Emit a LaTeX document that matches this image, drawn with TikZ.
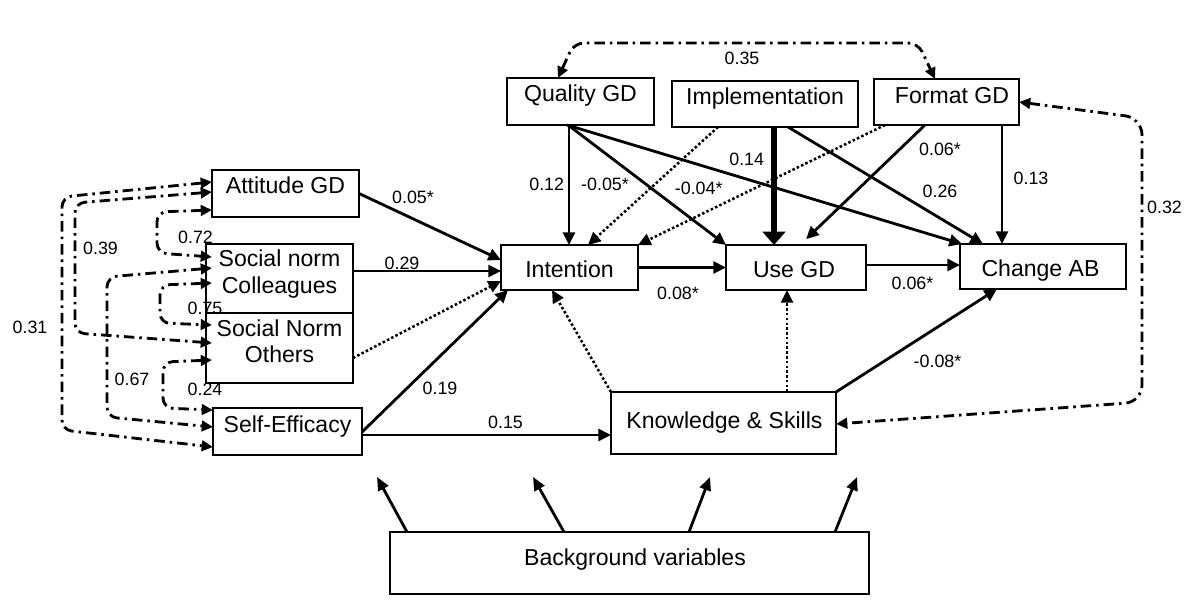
\documentclass[tikz,border=0pt]{standalone}
\usepackage{fontspec}
\setmainfont{Liberation Sans}
\usetikzlibrary{arrows.meta,calc}
\begin{document}
\begin{tikzpicture}[x=0.025cm,y=-0.025cm,
  box/.style={draw, line width=1.5pt, inner sep=0pt, outer sep=0pt},
  ntext/.style={font=\fontsize{16.4pt}{18.5pt}\selectfont, inner sep=0pt, text height=11.7pt, text depth=0pt},
  mtext/.style={font=\fontsize{16.4pt}{18.7pt}\selectfont, inner sep=0pt, align=center},
  lbl/.style={font=\fontsize{12.7pt}{15pt}\selectfont, inner sep=0pt, text height=9.1pt, text depth=0pt},
  arr/.style={line width=2pt, -{Triangle[length=9pt,width=8.5pt]}},
  thk/.style={line width=4pt, -{Triangle[length=9.5pt,width=16pt]}},
  dotarr/.style={line width=1.8pt, dash pattern=on 1.8pt off 1.6pt, -{Triangle[length=9pt,width=8.5pt]}},
  cov/.style={line width=2pt, dash pattern=on 7.5pt off 3.5pt on 1.8pt off 3.5pt, rounded corners=7pt,
    {Triangle[length=8pt,width=7.5pt]}-{Triangle[length=8pt,width=7.5pt]}},
  bgarr/.style={line width=2pt, -{Triangle[length=9.5pt,width=8pt]}}
]
\fill[white] (0,0) rectangle (1200,616);
\useasboundingbox (0,0) rectangle (1200,616);

% boxes
\node[box, minimum width=3.675cm, minimum height=1.175cm] (att) at (285.5,193.5) {};
\node[ntext] (att-t) at (285.5,185.5) {Attitude GD};
\node[box, minimum width=3.675cm, minimum height=1.725cm] (snc) at (279.5,278.5) {};
\node[mtext] (snc-t) at (279.5,274) {Social norm\\Colleagues};
\node[box, minimum width=3.675cm, minimum height=1.75cm] (sno) at (279.5,348) {};
\node[mtext] (sno-t) at (279.5,341.6) {Social Norm\\Others};
\node[box, minimum width=3.725cm, minimum height=1.175cm] (se) at (287.5,431.5) {};
\node[ntext] (se-t) at (287.5,424.5) {Self-Efficacy};
\node[box, minimum width=3.425cm, minimum height=1.125cm] (int) at (569.5,267.5) {};
\node[ntext] (int-t) at (569.5,269) {Intention};
\node[box, minimum width=3.5cm, minimum height=1.125cm] (use) at (796,267.5) {};
\node[ntext] (use-t) at (794,269) {Use GD};
\node[box, minimum width=4.15cm, minimum height=1.125cm] (cab) at (1043,266.5) {};
\node[ntext] (cab-t) at (1040.5,268) {Change AB};
\node[box, minimum width=3.675cm, minimum height=1.175cm] (qgd) at (580.5,101.5) {};
\node[ntext] (qgd-t) at (580.5,93) {Quality GD};
\node[box, minimum width=4.65cm, minimum height=1.15cm] (imp) at (765,104) {};
\node[ntext] (imp-t) at (765,96) {Implementation};
\node[box, minimum width=3.625cm, minimum height=1.15cm] (fgd) at (946.5,102) {};
\node[ntext] (fgd-t) at (952,95) {Format GD};
\node[box, minimum width=5.625cm, minimum height=1.55cm] (ks) at (723.5,423) {};
\node[ntext] (ks-t) at (724.5,420) {Knowledge \& Skills};
\node[box, minimum width=11.975cm, minimum height=1.55cm] (bg) at (629.5,563) {};
\node[ntext] (bg-t) at (635,557) {Background variables};

% structural paths
\draw[arr] (att.east) -- (int.west |- 0,260);
\draw[arr] (snc.east |- 0,271) -- (int.west |- 0,271);
\draw[dotarr] (sno.east |- 0,358) -- (int.west |- 0,281);
\draw[arr] (se.east |- 0,432) -- (508,0 |- int.south);
\draw[arr] (se.east |- 0,435) -- (ks.west |- 0,435);
\draw[arr] (569,0 |- qgd.south) -- (569,0 |- int.north);
\draw[arr] (568,0 |- qgd.south) -- (use.north west);
\draw[arr] (567,0 |- qgd.south) -- (962,0 |- cab.north);
\draw[dotarr] (718,0 |- imp.south) -- (588,0 |- int.north);
\draw[thk] (774,0 |- imp.south) -- (774,0 |- use.north);
\draw[arr] (788,0 |- imp.south) -- (983,0 |- cab.north);
\draw[dotarr] (885,0 |- fgd.south) -- (int.north east);
\draw[arr, shorten >=6pt] (925,0 |- fgd.south) -- (800,0 |- use.north);
\draw[arr] (1002,0 |- fgd.south) -- (1002,0 |- cab.north);
\draw[arr] (int.east) -- (use.west);
\draw[arr] (use.east |- 0,265) -- (cab.west |- 0,265);
\draw[dotarr] (ks.north west) -- (552,0 |- int.south);
\draw[dotarr] (787,0 |- ks.north) -- (787,0 |- use.south);
\draw[arr] (ks.north east) -- (997,0 |- cab.south);

% background arrows
\coordinate (b1) at (377,477);
\coordinate (b2) at (533,477);
\coordinate (b3) at (710,477);
\coordinate (b4) at (857,477);
\draw[bgarr] (407,0 |- bg.north) -- (b1);
\draw[bgarr] (564,0 |- bg.north) -- (b2);
\draw[bgarr] (689,0 |- bg.north) -- (b3);
\draw[bgarr] (835,0 |- bg.north) -- (b4);

% covariances
\draw[cov] (558,0 |- qgd.north) -- (574,43) -- (918,43) -- (935,0 |- fgd.north);
\draw[cov, rounded corners=12pt] (fgd.east) -- (1142,118) -- (1142,402) -- (ks.east |- 0,424);
\draw[cov] (att.west |- 0,182) -- (62,197) -- (62,430) -- (se.west |- 0,447);
\draw[cov] (att.west |- 0,192) -- (75,203) -- (75,333) -- (212,0 |- 0,343);
\draw[cov] (att.west |- 0,210) -- (157,212) -- (157,253) -- (212,0 |- 0,257);
\draw[cov] (212,0 |- 0,268) -- (107,277) -- (107,417) -- (se.west |- 0,427);
\draw[cov] (212,0 |- 0,283) -- (160,285) -- (160,323) -- (212,0 |- 0,325);
\draw[cov] (212,0 |- 0,360) -- (163,362) -- (163,408) -- (se.west |- 0,410);

% labels
\node[lbl] (l05) at (413,197) {0.05*};
\node[lbl] (l29) at (402,263) {0.29};
\node[lbl] (l19) at (440,388) {0.19};
\node[lbl] (l15) at (505.5,422) {0.15};
\node[lbl] (l12) at (546.7,184) {0.12};
\node[lbl] (lm05) at (605,184) {-0.05*};
\node[lbl] (lm04) at (698.7,188) {-0.04*};
\node[lbl] (l14) at (746.7,159) {0.14};
\node[lbl] (l26) at (940,190.7) {0.26};
\node[lbl] (l06a) at (940,149) {0.06*};
\node[lbl] (l13) at (1031,178) {0.13};
\node[lbl] (l32) at (1164.5,206.7) {0.32};
\node[lbl] (l06b) at (912.5,282.7) {0.06*};
\node[lbl] (lm08) at (937.5,361) {-0.08*};
\node[lbl] (l08) at (678,292.7) {0.08*};
\node[lbl] (l35) at (742,58) {0.35};
\node[lbl] (l31) at (30,327) {0.31};
\node[lbl] (l39) at (100.5,248) {0.39};
\node[lbl] (l72) at (195.5,237) {0.72};
\node[lbl] (l75) at (205,308) {0.75};
\node[lbl] (l67) at (132,379) {0.67};
\node[lbl] (l24) at (205,389) {0.24};
\end{tikzpicture}
\end{document}
